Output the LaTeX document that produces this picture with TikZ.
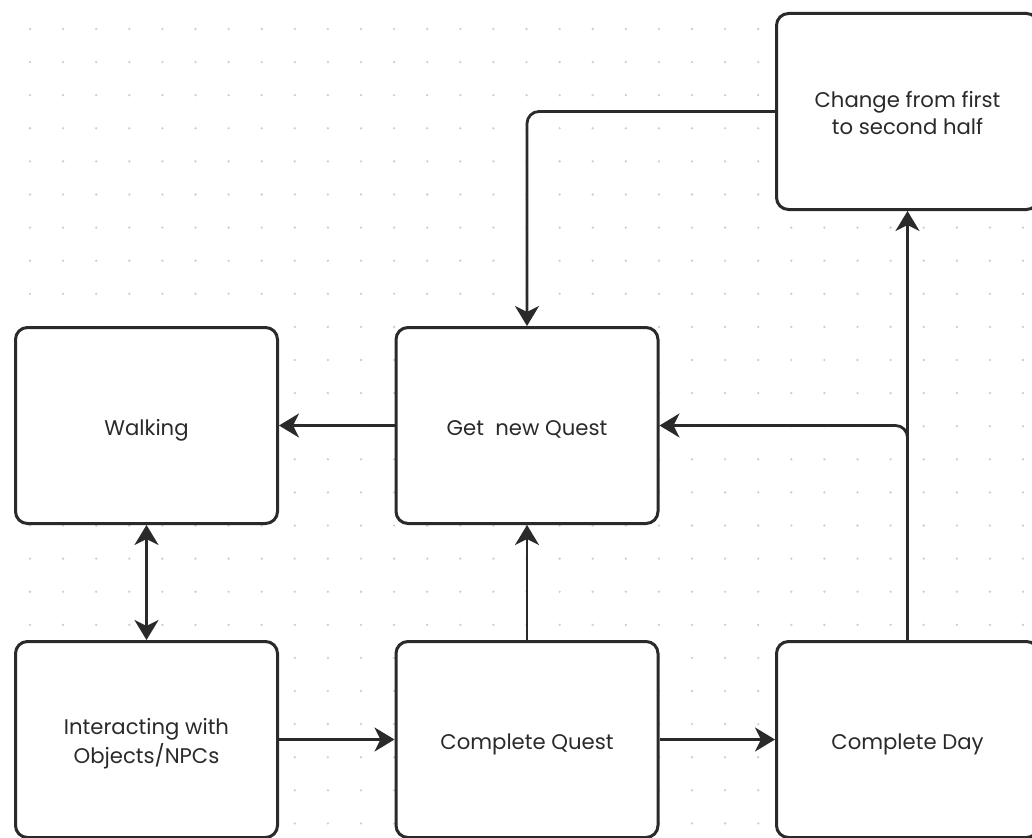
\documentclass[tikz,border=0pt]{standalone}
\usepackage{fontspec}
\setmainfont{Poppins}
\usetikzlibrary{arrows.meta}
\definecolor{inkc}{HTML}{2A2A2A}
\definecolor{dotc}{HTML}{CFCFCF}
% box label: centred lines, set a little below the geometric centre
\newcommand\boxtext[1]{\raisebox{-4pt}[\height][\depth]{\begin{tabular}{@{}c@{}}#1\end{tabular}}}
\tikzset{
  stepbox/.style={draw=inkc, line width=3pt, fill=white, rounded corners=12pt,
    minimum width=262pt, minimum height=196pt, inner sep=0pt,
    text=inkc, font=\fontsize{21.2}{27.5}\selectfont},
  flow/.style={draw=inkc, line width=2.8pt,
    -{Stealth[length=20pt, width=24pt, inset=6pt]}},
  bothflow/.style={flow, {Stealth[length=20pt, width=24pt, inset=6pt]}-{Stealth[length=20pt, width=24pt, inset=6pt]}},
}
\begin{document}
\begin{tikzpicture}[x=1pt, y=-1pt]
\useasboundingbox (0,0) rectangle (1032,837);
\clip (0,0) rectangle (1032,837);
\fill[white] (0,0) rectangle (1032,837);
% dotted canvas
\foreach \i in {0,...,30} {
  \foreach \j in {0,...,24} {
    \fill[dotc] ({30+33.1*\i}, {29+33.1*\j}) circle (1.3);
  }
}
% process boxes
\node[stepbox] (walk)   at (146.5, 425.5) {\boxtext{Walking}};
\node[stepbox] (getq)   at (527, 425.5)   {\boxtext{Get\ \ new Quest}};
\node[stepbox] (half)   at (907.5, 111.5) {\boxtext{Change from first\\to second half}};
\node[stepbox] (inter)  at (146.5, 739.5) {\boxtext{Interacting with\\Objects/NPCs}};
\node[stepbox] (doneq)  at (527, 739.5)   {\boxtext{Complete Quest}};
\node[stepbox] (doned)  at (907.5, 739.5) {\boxtext{Complete Day}};
% connectors
\draw[flow, rounded corners=12pt] (half.west) -| (getq.north);
\draw[flow] (getq.west) -- (walk.east);
\draw[bothflow] (walk.south) -- (inter.north);
\draw[flow] (inter.east) -- (doneq.west);
\draw[flow] (doneq.north) -- (getq.south);
\draw[flow] (doneq.east) -- (doned.west);
\draw[flow] (doned.north) -- (half.south);
\draw[flow, rounded corners=12pt] (doned.north) |- (getq.east);
\end{tikzpicture}
\end{document}
